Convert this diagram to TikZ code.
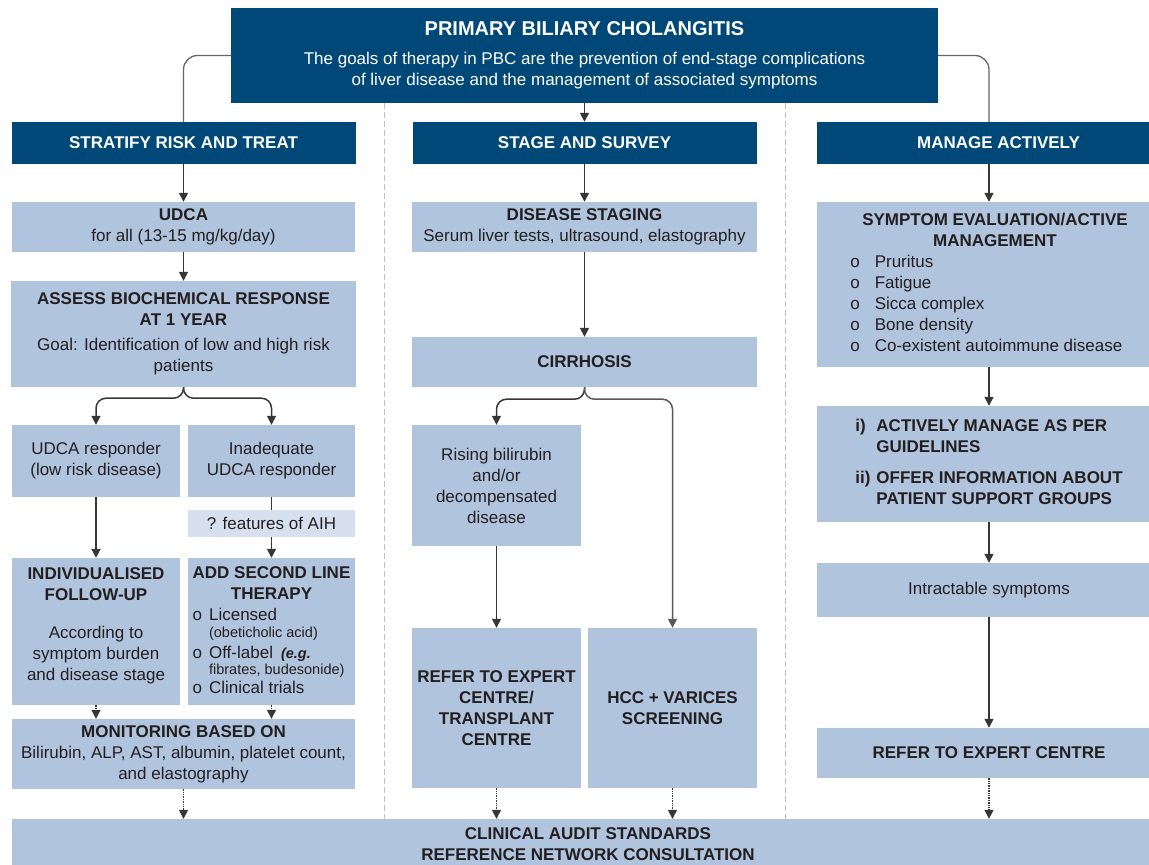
\documentclass[tikz,border=0pt]{standalone}
\usepackage{fontspec}
\setmainfont{Liberation Sans}
\usepackage{xcolor}
\usepackage{tikz}
\usetikzlibrary{arrows.meta,positioning,calc}
\definecolor{navy}{HTML}{004878}
\definecolor{steel}{HTML}{B0C4DE}
\definecolor{pale}{HTML}{D7E0EF}
\definecolor{ink}{HTML}{231F20}
\newcommand{\bodyfs}{\fontsize{17}{21}\selectfont}
\newcommand{\smallfs}{\fontsize{14.5}{16}\selectfont}

\begin{document}
\begin{tikzpicture}[x=1pt, y=-1pt,
  hd/.style={fill=navy, text=white, font=\bodyfs\bfseries, inner sep=0pt, minimum width=344pt, minimum height=42pt, align=center},
  bx/.style={fill=steel, text=ink, font=\bodyfs, inner sep=0pt, align=center},
  arr/.style={-{Triangle[length=9pt, width=9pt]}, line width=1.5pt, draw=ink!90},
  dotarr/.style={arr, line width=1.4pt, densely dotted},
  conn/.style={line width=1.3pt, draw=black!60, rounded corners=14pt},
  sep/.style={draw=black!25, line width=0.8pt, dash pattern=on 6pt off 3pt}]
\useasboundingbox (0,0) rectangle (1149,865);
\clip (0,0) rectangle (1149,865);
% title and column heads
\node[fill=navy, text=white, font=\bodyfs, inner sep=0pt, minimum width=707pt, minimum height=95pt, align=center] (title) at (584.5,55.5)
  {{\fontsize{20}{24}\selectfont\bfseries PRIMARY BILIARY CHOLANGITIS}\\[8pt]
   The goals of therapy in PBC are the prevention of end-stage complications\\
   of liver disease and the management of associated symptoms};
\node[hd] (hrisk) at (183.5,143) {STRATIFY RISK AND TREAT};
\node[hd] (hstage) at (584.5,143) {STAGE AND SURVEY};
\node[hd, minimum width=363pt] (hmanage) at (998.5,143) {MANAGE ACTIVELY};
% left column
\node[bx, minimum width=343pt, minimum height=50pt] (udca) at (183.5,227) {\textbf{UDCA}\\for all (13-15 mg/kg/day)};
\node[bx, minimum width=345pt, minimum height=106pt] (assess) at (183.5,334)
  {\textbf{ASSESS BIOCHEMICAL RESPONSE}\\\textbf{AT 1 YEAR}\\[4pt]Goal: Identification of low and high risk\\patients};
\node[bx, minimum width=168pt, minimum height=72pt] (resp) at (96,461) {UDCA responder\\(low risk disease)};
\node[bx, minimum width=167pt, minimum height=72pt] (inadq) at (271.5,461) {Inadequate\\UDCA responder};
\node[bx, fill=pale, minimum width=167pt, minimum height=27pt] (aih) at (271.5,523.5) {? features of AIH};
\node[bx, minimum width=168pt, minimum height=147pt] (indiv) at (96,631.5)
  {\begin{tabular}{@{}c@{}}
   \textbf{INDIVIDUALISED}\\ \textbf{FOLLOW-UP}\\[17pt]
   According to\\ symptom burden\\ and disease stage\\[11pt]
   \end{tabular}};
\node[bx, minimum width=167pt, minimum height=147pt] (second) at (271.5,631.5)
  {\begin{tabular}{@{}l@{\hspace{7pt}}l@{}}
   \multicolumn{2}{@{}c@{}}{\textbf{ADD SECOND LINE}}\\
   \multicolumn{2}{@{}c@{}}{\textbf{THERAPY}}\\
   o & Licensed\\[-4pt]
     & {\smallfs (obeticholic acid)}\\
   o & Off-label\hspace{8pt}{\smallfs\bfseries\itshape (e.g.}\\[-5pt]
     & {\smallfs fibrates, budesonide)}\\[-2pt]
   o & Clinical trials
   \end{tabular}};
\node[bx, minimum width=343pt, minimum height=70pt] (monit) at (183.5,754)
  {\textbf{MONITORING BASED ON}\\Bilirubin, ALP, AST, albumin, platelet count,\\and elastography};
% middle column
\node[bx, minimum width=345pt, minimum height=50pt] (staging) at (584.5,227) {\textbf{DISEASE STAGING}\\Serum liver tests, ultrasound, elastography};
\node[bx, minimum width=345pt, minimum height=50pt] (cirr) at (584.5,362) {\textbf{CIRRHOSIS}};
\node[bx, minimum width=169pt, minimum height=121pt] (rising) at (496.5,485.5) {Rising bilirubin\\and/or\\decompensated\\disease};
\node[bx, minimum width=169pt, minimum height=160pt] (refer) at (496.5,708)
  {\textbf{REFER TO EXPERT}\\\textbf{CENTRE/}\\\textbf{TRANSPLANT}\\\textbf{CENTRE}};
\node[bx, minimum width=169pt, minimum height=160pt] (hcc) at (672.5,708) {\textbf{HCC + VARICES}\\\textbf{SCREENING}};
% right column
\node[bx, minimum width=344pt, minimum height=165pt] (symp) at (989,284.5)
  {\begin{tabular}{@{}l@{}}
   \multicolumn{1}{@{\hspace{12pt}}l@{}}{\textbf{SYMPTOM EVALUATION/ACTIVE}}\\
   \multicolumn{1}{@{\hspace{12pt}}c@{}}{\textbf{MANAGEMENT}}\\
   o\hspace{15pt}Pruritus\\
   o\hspace{15pt}Fatigue\\
   o\hspace{15pt}Sicca complex\\
   o\hspace{15pt}Bone density\\
   o\hspace{15pt}Co-existent autoimmune disease
   \end{tabular}};
\node[bx, minimum width=344pt, minimum height=116pt] (active) at (989,464)
  {\begin{tabular}{@{}l@{\hspace{6pt}}l@{}}
   \textbf{i)} & \textbf{ACTIVELY MANAGE AS PER}\\
               & \textbf{GUIDELINES}\\[10pt]
   \textbf{ii)} & \textbf{OFFER INFORMATION ABOUT}\\
                & \textbf{PATIENT SUPPORT GROUPS}
   \end{tabular}};
\node[bx, minimum width=344pt, minimum height=54pt] (intract) at (989,590) {Intractable symptoms};
\node[bx, minimum width=344pt, minimum height=50pt] (expert) at (989,753) {\textbf{REFER TO EXPERT CENTRE}};
% bottom bar
\node[bx, minimum width=1152pt, minimum height=51pt] (audit) at (588,844.5)
  {\textbf{CLINICAL AUDIT STANDARDS}\\\textbf{REFERENCE NETWORK CONSULTATION}};
% column separators
\coordinate (s1) at (384,0);
\coordinate (s2) at (785,0);
\draw[sep] (title.south -| s1) -- (audit.north -| s1);
\draw[sep] (title.south -| s2) -- (audit.north -| s2);
% connectors
\draw[conn] (title.west) -| (hrisk.north);
\draw[conn] (title.east) -| (symp.north |- hmanage.north);
\draw[arr] (title) -- (hstage);
\draw[arr] (hrisk) -- (udca);
\draw[arr] (udca) -- (assess);
\draw[arr, rounded corners=10pt] (assess.south) -- ++(0,11) -| (resp.north);
\draw[arr, rounded corners=10pt] (assess.south) -- ++(0,11) -| (inadq.north);
\draw[arr, line width=2.1pt] (resp) -- (indiv);
\draw[line width=1.5pt, draw=ink!90] (inadq) -- (aih);
\draw[arr] (aih) -- (second);
\draw[dotarr] (indiv) -- (indiv |- monit.north);
\draw[dotarr] (second) -- (second |- monit.north);
\draw[dotarr] (monit) -- (monit |- audit.north);
\draw[arr] (hstage) -- (staging);
\draw[arr] (staging) -- (cirr);
\draw[arr, rounded corners=10pt] (cirr.south) -- ++(0,12) -| (rising.north);
\draw[arr, rounded corners=10pt, draw=black!65] (cirr.south) -- ++(0,12) -| (hcc.north);
\draw[arr] (rising) -- (refer);
\draw[dotarr] (refer) -- (refer |- audit.north);
\draw[dotarr] (hcc) -- (hcc |- audit.north);
\draw[arr] (symp.north |- hmanage.south) -- (symp);
\draw[arr] (symp) -- (active);
\draw[arr] (active) -- (intract);
\draw[arr] (intract) -- (expert);
\draw[dotarr] (expert) -- (expert |- audit.north);
\end{tikzpicture}
\end{document}
